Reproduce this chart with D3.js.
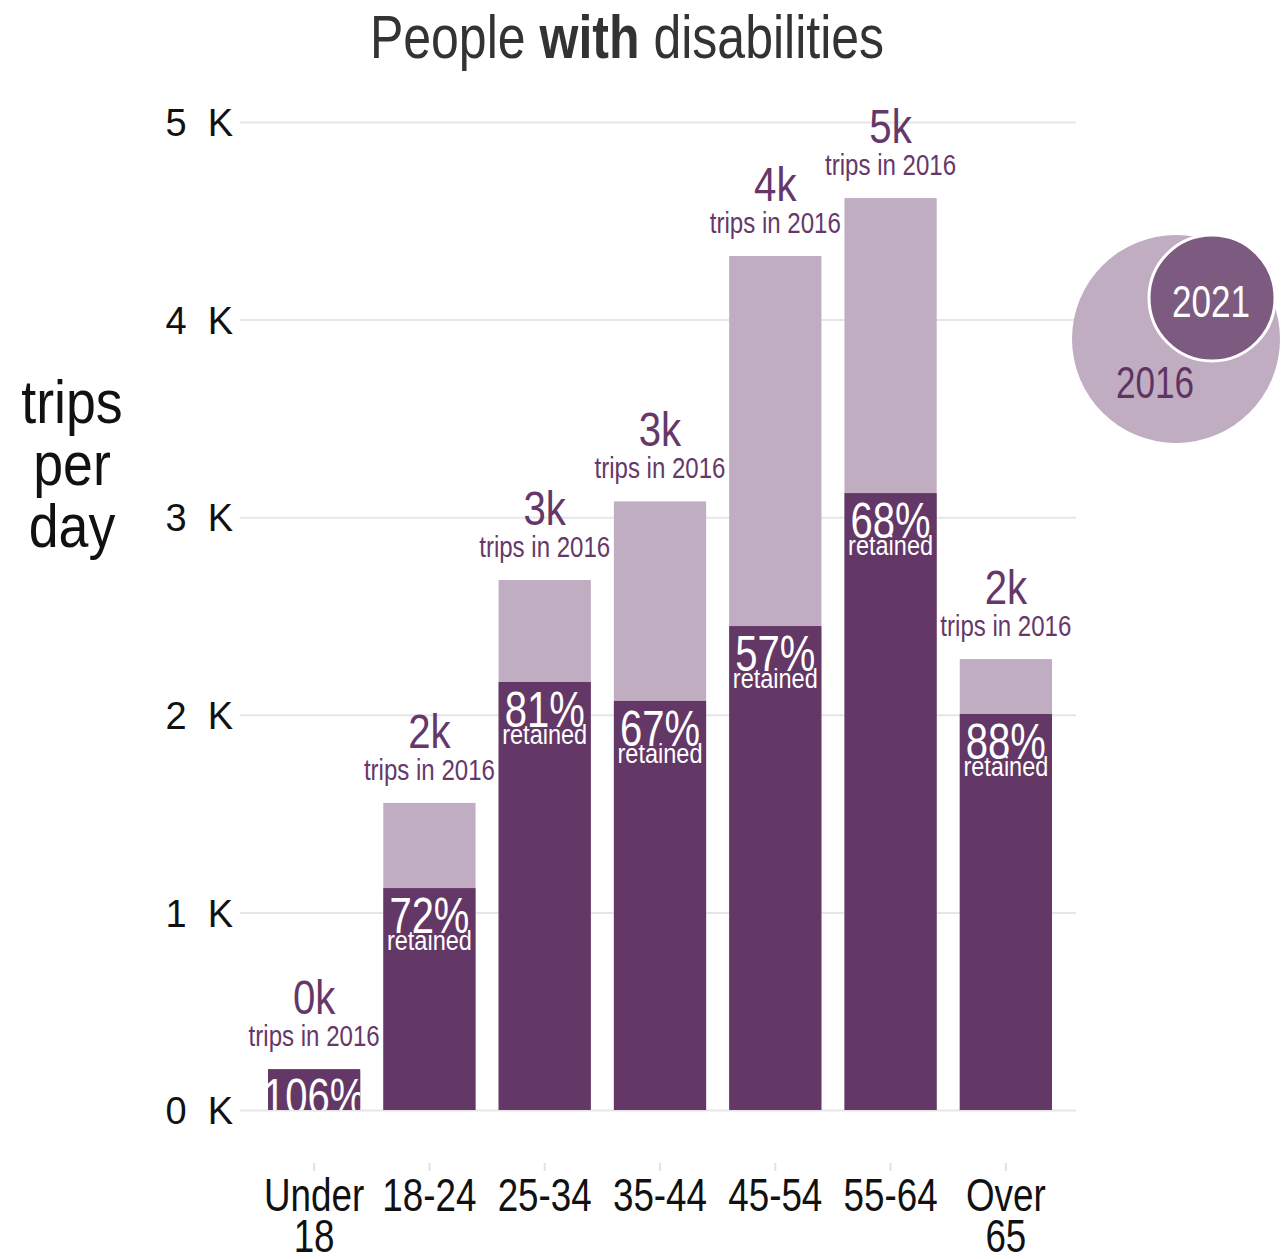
<!DOCTYPE html>
<html>
<head>
<meta charset="utf-8">
<script src="https://cdn.jsdelivr.net/npm/d3@7"></script>
<style>
  html, body { margin: 0; padding: 0; background: #fff; }
  svg { display: block; }
  text { font-family: "Liberation Sans", Arial, sans-serif; }
</style>
</head>
<body>
<svg id="chart" width="1283" height="1259"></svg>
<script>
// Age groups and daily trips (thousands) for people with disabilities
const ageGroups = ["Under 18", "18-24", "25-34", "35-44", "45-54", "55-64", "Over 65"];
const trips2016 = [0.195, 1.554, 2.682, 3.08, 4.322, 4.615, 2.282];
const trips2021 = [0.207, 1.123, 2.166, 2.07, 2.449, 3.122, 2.004];
const yTicks = [0, 1, 2, 3, 4, 5];
const legendYears = ["2016", "2021"];

const DARK = "#643866";
const LIGHT = "#c0adc2";
const LABEL = "#66386a";

const svg = d3.select("#chart");

// Condense text horizontally around its anchor x
function squeeze(sel, s, fx) {
  sel.attr("transform", function (d) {
    const cx = fx ? fx(d) : +this.getAttribute("x");
    return `translate(${cx},0) scale(${s},1) translate(${-cx},0)`;
  });
}

const x = d3.scaleBand()
  .domain(ageGroups)
  .range([240, 1080])
  .paddingInner(0.2)
  .paddingOuter(0.243);
const cx = g => x(g) + x.bandwidth() / 2;

const y = d3.scaleLinear().domain([0, 5]).range([1110, 122]);

const rows = ageGroups.map((g, i) => ({
  group: g,
  v2016: trips2016[i],
  v2021: trips2021[i],
  pct: Math.round(trips2021[i] / trips2016[i] * 100)
}));

// Title
svg.append("text")
  .attr("x", 627).attr("y", 58)
  .attr("text-anchor", "middle")
  .attr("font-size", 61)
  .attr("fill", "#333")
  .call(t => {
    t.append("tspan").text("People ");
    t.append("tspan").attr("font-weight", "bold").text("with");
    t.append("tspan").text(" disabilities");
  })
  .call(squeeze, 0.82);

// Horizontal gridlines and y tick labels
const yAxis = svg.append("g")
  .attr("transform", "translate(240,0)")
  .call(d3.axisLeft(y).tickValues(yTicks).tickSize(-836).tickPadding(7)
    .tickFormat(d => d + "\u00a0\u00a0K"));
yAxis.select(".domain").remove();
yAxis.selectAll(".tick line").attr("stroke", "#e6e6e6").attr("stroke-width", 2);
yAxis.selectAll(".tick text")
  .attr("font-size", 38)
  .attr("fill", "#111")
  .attr("dy", "0.36em");

// Y axis title
svg.append("text")
  .attr("text-anchor", "middle")
  .attr("font-size", 61)
  .attr("fill", "#111")
  .call(t => t.selectAll("tspan")
    .data(["trips", "per", "day"])
    .join("tspan")
    .attr("x", 72)
    .attr("y", (d, i) => 423 + i * 62)
    .text(d => d))
  .call(squeeze, 0.88, () => 72);

// X axis ticks and labels
const xAxis = svg.append("g")
  .attr("transform", "translate(0,1163)")
  .call(d3.axisBottom(x).tickSize(8).tickFormat(""));
xAxis.select(".domain").remove();
xAxis.selectAll(".tick line").attr("stroke", "#e3e3e3").attr("stroke-width", 2);

svg.append("g").selectAll("text")
  .data(ageGroups)
  .join("text")
  .attr("text-anchor", "middle")
  .attr("font-size", 46)
  .attr("fill", "#111")
  .each(function (d) {
    d3.select(this).selectAll("tspan")
      .data(d.split(" "))
      .join("tspan")
      .attr("x", cx(d))
      .attr("y", (p, i) => 1211 + i * 41)
      .text(p => p);
  })
  .call(squeeze, 0.8, d => cx(d));

// Bars: 2016 behind, 2021 in front
const bars = svg.append("g");
bars.selectAll("rect.b2016")
  .data(rows)
  .join("rect")
  .attr("class", "b2016")
  .attr("x", d => x(d.group))
  .attr("width", x.bandwidth())
  .attr("y", d => y(d.v2016))
  .attr("height", d => y(0) - y(d.v2016))
  .attr("fill", LIGHT);
bars.selectAll("rect.b2021")
  .data(rows)
  .join("rect")
  .attr("class", "b2021")
  .attr("x", d => x(d.group))
  .attr("width", x.bandwidth())
  .attr("y", d => y(d.v2021))
  .attr("height", d => y(0) - y(d.v2021))
  .attr("fill", DARK);

// Inner labels are clipped to the 2021 bars
svg.append("defs").append("clipPath").attr("id", "barClip")
  .selectAll("rect")
  .data(rows)
  .join("rect")
  .attr("x", d => x(d.group))
  .attr("width", x.bandwidth())
  .attr("y", d => y(d.v2021))
  .attr("height", d => y(0) - y(d.v2021));

const inner = svg.append("g").attr("clip-path", "url(#barClip)");
inner.selectAll("text.pct")
  .data(rows)
  .join("text")
  .attr("class", "pct")
  .attr("x", d => cx(d.group))
  .attr("y", d => y(d.v2021) + 45)
  .attr("text-anchor", "middle")
  .attr("font-size", 50)
  .attr("fill", "#fff")
  .text(d => d.pct + "%")
  .call(squeeze, 0.8);
inner.selectAll("text.ret")
  .data(rows)
  .join("text")
  .attr("class", "ret")
  .attr("x", d => cx(d.group))
  .attr("y", d => y(d.v2021) + 62)
  .attr("text-anchor", "middle")
  .attr("font-size", 28)
  .attr("fill", "#fff")
  .text("retained")
  .call(squeeze, 0.84);

// 2016 totals above each bar
const totals = svg.append("g");
totals.selectAll("text.tot")
  .data(rows)
  .join("text")
  .attr("class", "tot")
  .attr("x", d => cx(d.group))
  .attr("y", d => y(Math.max(d.v2016, d.v2021)) - 55)
  .attr("text-anchor", "middle")
  .attr("font-size", 49)
  .attr("fill", LABEL)
  .text(d => Math.round(d.v2016) + "k")
  .call(squeeze, 0.82);
totals.selectAll("text.sub")
  .data(rows)
  .join("text")
  .attr("class", "sub")
  .attr("x", d => cx(d.group))
  .attr("y", d => y(Math.max(d.v2016, d.v2021)) - 23)
  .attr("text-anchor", "middle")
  .attr("font-size", 29)
  .attr("fill", LABEL)
  .text("trips in 2016")
  .call(squeeze, 0.83);

// Legend: nested circles
const legend = svg.append("g");
legend.append("circle")
  .attr("cx", 1176).attr("cy", 339).attr("r", 104)
  .attr("fill", LIGHT);
legend.append("circle")
  .attr("cx", 1212).attr("cy", 298).attr("r", 63)
  .attr("fill", "#7d5a80")
  .attr("stroke", "#fff").attr("stroke-width", 3);
legend.append("text")
  .attr("x", 1211).attr("y", 317)
  .attr("text-anchor", "middle")
  .attr("font-size", 45)
  .attr("fill", "#fff")
  .text(legendYears[1])
  .call(squeeze, 0.78);
legend.append("text")
  .attr("x", 1155).attr("y", 398)
  .attr("text-anchor", "middle")
  .attr("font-size", 45)
  .attr("fill", "#5e3561")
  .text(legendYears[0])
  .call(squeeze, 0.78);
</script>
</body>
</html>
